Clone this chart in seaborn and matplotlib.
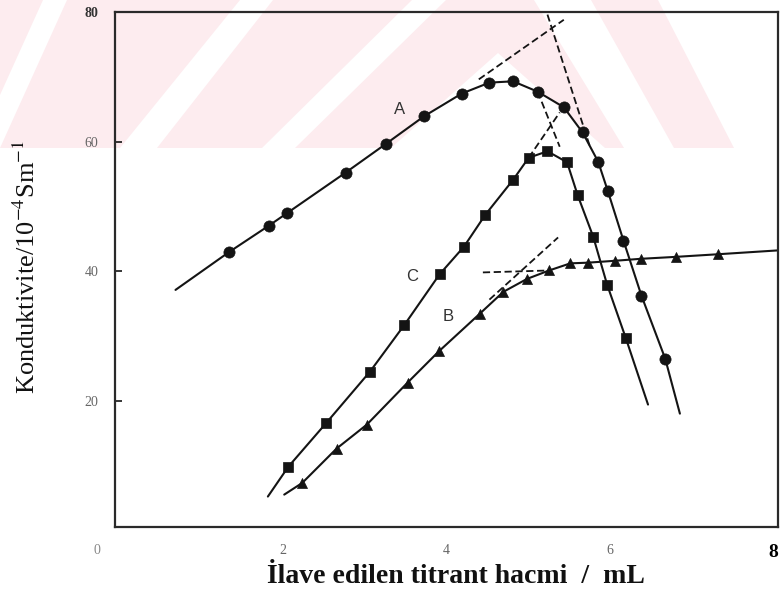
import matplotlib
matplotlib.use("Agg")
import matplotlib.pyplot as plt
import matplotlib.transforms as mtransforms
import seaborn as sns
import pandas as pd
from matplotlib.patches import Polygon

# ---------------- data ----------------
# Curve A (circles)
a_x = [1.34, 1.83, 2.06, 2.77, 3.27, 3.73, 4.19, 4.53, 4.82, 5.12, 5.44, 5.67, 5.86, 5.98, 6.17, 6.39, 6.68]
a_y = [42.9, 47.0, 49.0, 55.2, 59.7, 63.9, 67.4, 69.1, 69.3, 67.7, 65.3, 61.4, 56.9, 52.3, 44.7, 36.2, 26.5]
a_start = (0.69, 37.1)
a_end = (6.86, 18.0)

# Curve C (squares)
c_x = [2.07, 2.53, 3.07, 3.49, 3.92, 4.22, 4.48, 4.82, 5.01, 5.24, 5.48, 5.61, 5.80, 5.97, 6.20]
c_y = [9.8, 16.5, 24.5, 31.7, 39.5, 43.8, 48.7, 54.1, 57.5, 58.5, 56.8, 51.7, 45.3, 37.9, 29.6]
c_start = (1.82, 5.2)
c_end = (6.47, 19.4)

# Curve B (triangles)
b_x = [2.24, 2.66, 3.03, 3.53, 3.91, 4.41, 4.70, 4.99, 5.26, 5.52, 5.73, 6.07, 6.38, 6.81, 7.32]
b_y = [7.3, 12.6, 16.3, 22.8, 27.6, 33.4, 36.8, 38.8, 40.1, 41.2, 41.3, 41.6, 41.9, 42.2, 42.6]
b_start = (2.02, 5.5)
b_end = (8.06, 43.2)

# Extrapolated (dashed) tangent lines
tan_a_rise_x, tan_a_rise_y = [4.40, 5.44], [69.6, 78.8]
tan_a_fall_x, tan_a_fall_y = [5.24, 5.76], [79.6, 59.2]
tan_c_rise_x, tan_c_rise_y = [5.01, 5.39], [57.5, 64.5]
tan_c_fall_x, tan_c_fall_y = [5.12, 5.39], [67.7, 59.2]
tan_b_rise_x, tan_b_rise_y = [4.53, 5.37], [35.6, 45.2]
tan_b_flat_x, tan_b_flat_y = [4.45, 5.26], [39.8, 40.1]

curve_labels = ["A", "C", "B"]
curve_label_pos = [(3.43, 64.9), (3.59, 39.2), (4.02, 33.0)]

y_ticks = [20, 40, 60, 80]
x_ticks = [2, 4, 6, 8]
x_label = "İlave edilen titrant hacmi  /  mL"
y_label = "Konduktivite/10$^{-4}$Sm$^{-1}$"

# ---------------- figure ----------------
sns.set_theme(style="white")
plt.rcParams["font.family"] = ["Liberation Serif", "DejaVu Serif"]
plt.rcParams["mathtext.fontset"] = "stix"

W, H = 782, 594
fig = plt.figure(figsize=(W / 100, H / 100), dpi=100)
fig.patch.set_facecolor("white")

# faint pink watermark band across the top of the scan
def px(pts):
    return [(x / W, 1 - y / H) for x, y in pts]

pink = "#fdecef"
fig.patches.append(Polygon(px([(0, 0), (W, 0), (W, 148), (0, 148)]), closed=True,
                           transform=fig.transFigure, facecolor=pink, edgecolor="none", zorder=-5))
white_polys = [
    [(-24, 148), (0, 148), (67, 0), (43, 0)],
    [(120, 148), (157, 148), (273, 0), (240, 0)],
    [(262, 148), (295, 148), (446, 0), (412, 0)],
    [(391, 148), (498, 53), (605, 148)],
    [(534, 0), (591, 0), (674, 148), (624, 148)],
    [(658, 0), (W, 0), (W, 148), (734, 148)],
]
for poly in white_polys:
    fig.patches.append(Polygon(px(poly), closed=True, transform=fig.transFigure,
                               facecolor="white", edgecolor="none", zorder=-4))

L, R, T, B = 115, 778, 12, 527
ax = fig.add_axes([L / W, 1 - B / H, (R - L) / W, (B - T) / H])
ax.patch.set_alpha(0)

ink = "#141414"

def curve(xs, ys, start, end):
    return pd.DataFrame({"x": [start[0]] + xs + [end[0]], "y": [start[1]] + ys + [end[1]]})

for xs, ys, st, en in [(a_x, a_y, a_start, a_end), (c_x, c_y, c_start, c_end), (b_x, b_y, b_start, b_end)]:
    sns.lineplot(data=curve(xs, ys, st, en), x="x", y="y", sort=False, estimator=None,
                 color=ink, lw=1.5, ax=ax)

for tx, ty in [(tan_a_rise_x, tan_a_rise_y), (tan_a_fall_x, tan_a_fall_y),
               (tan_c_rise_x, tan_c_rise_y), (tan_c_fall_x, tan_c_fall_y),
               (tan_b_rise_x, tan_b_rise_y), (tan_b_flat_x, tan_b_flat_y)]:
    sns.lineplot(x=tx, y=ty, sort=False, estimator=None, color=ink, lw=1.3,
                 linestyle=(0, (4, 2)), ax=ax)

sns.scatterplot(x=a_x, y=a_y, marker="o", s=65, color=ink, edgecolor=ink, linewidth=0.5, ax=ax, zorder=5)
sns.scatterplot(x=c_x, y=c_y, marker="s", s=58, color=ink, edgecolor=ink, linewidth=0.5, ax=ax, zorder=5)
sns.scatterplot(x=b_x, y=b_y, marker="^", s=52, color=ink, edgecolor=ink, linewidth=0.5, ax=ax, zorder=5)

for lab, (lx, ly) in zip(curve_labels, curve_label_pos):
    ax.text(lx, ly, lab, fontsize=12, color="#333333", ha="center", va="center",
            family=["Liberation Sans", "DejaVu Sans"])

ax.set_xlim(-0.05, 8.06)
ax.set_ylim(0.5, 80)

ax.set_yticks(y_ticks)
ax.set_yticklabels([str(v) for v in y_ticks], color="#666666", fontsize=10)
ylabs = ax.get_yticklabels()
ylabs[-1].set_color("#333333")
ylabs[-1].set_fontweight("bold")

ax.set_xticks(x_ticks)
ax.set_xticklabels([str(v) for v in x_ticks], color="#666666", fontsize=10)
lab8 = ax.get_xticklabels()[-1]
lab8.set_fontweight("bold")
lab8.set_color("black")
lab8.set_fontsize(14)
lab8.set_transform(lab8.get_transform() + mtransforms.ScaledTranslation(-6 / 100, 0, fig.dpi_scale_trans))
ax.text(-0.027, -0.045, "0", transform=ax.transAxes, color="#888888", fontsize=10,
        ha="center", va="center")

ax.tick_params(axis="y", direction="in", length=5, width=1.2, pad=12, color=ink, left=True)
ax.tick_params(axis="x", length=0, pad=12)

for s in ax.spines.values():
    s.set_color("#2a2a2a")
    s.set_linewidth(1.6)

ax.set_xlabel(x_label, fontsize=20, fontweight="bold", color="#111111")
ax.set_ylabel(y_label, fontsize=19, color="#111111")
ax.xaxis.set_label_coords(0.514, -0.072)
ax.yaxis.set_label_coords(-0.113, 0.505)

fig.savefig("out.png", dpi=100)
